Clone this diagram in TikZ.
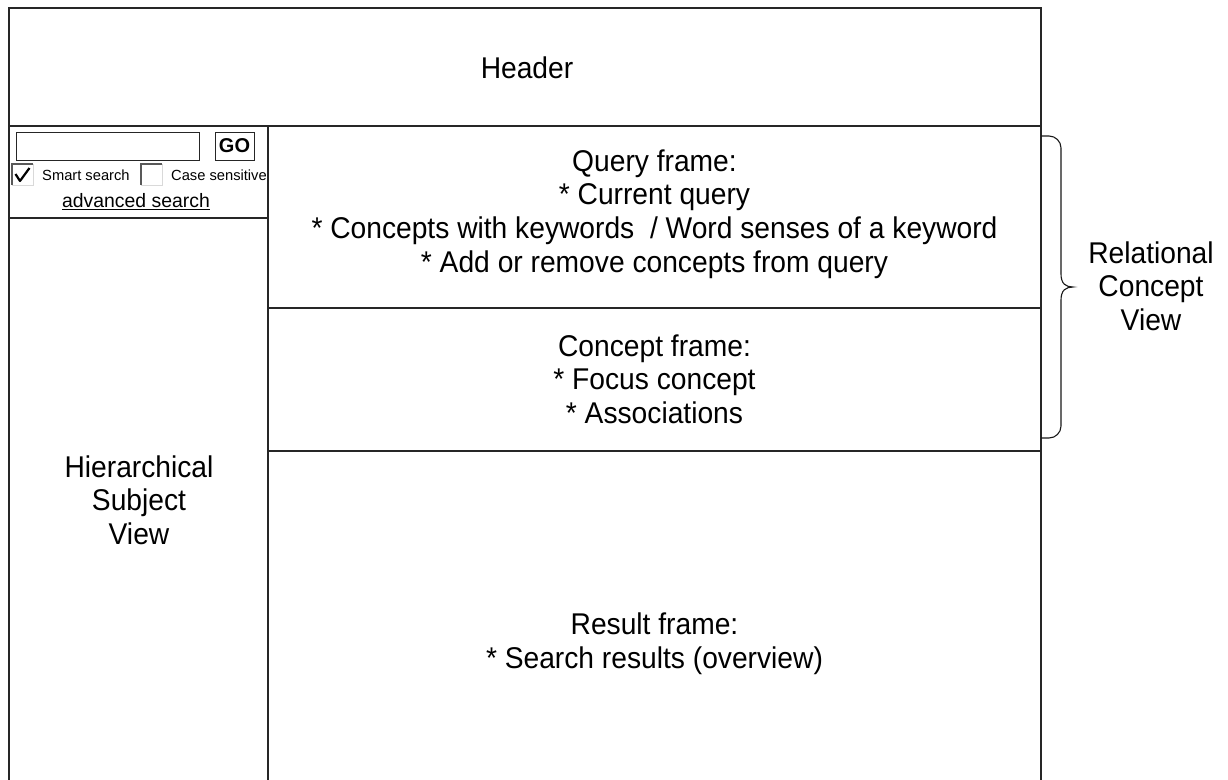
\documentclass[tikz,border=0pt]{standalone}
\usepackage{fontspec}
\setmainfont{Liberation Sans}
\newfontfamily\narrowsans[FakeStretch=0.94]{Liberation Sans}
\begin{document}
\begin{tikzpicture}[x=1pt,y=-1pt,
  frame/.style={draw=black!85,line width=1.4pt},
  thin/.style={draw=black!85,line width=1pt},
  label/.style={align=center,font=\narrowsans\fontsize{30}{33.7}\selectfont,inner sep=0pt},
  small/.style={font=\fontsize{14.7}{16}\selectfont,inner sep=0pt,anchor=west},
  boxdark/.style={draw=black!65,line width=1.6pt},
  boxlight/.style={draw=black!15,line width=1pt}]
\useasboundingbox (0,0) rectangle (1228,779);
\clip (0,0) rectangle (1228,779);

% page frames
\draw[frame] (9,8) rectangle (1041,126);
\draw[frame] (9,126) rectangle (268,800);
\draw[frame] (9,218) -- (268,218);
\draw[frame] (268,126) rectangle (1041,308);
\draw[frame] (268,308) rectangle (1041,451);
\draw[frame] (268,451) rectangle (1041,800);

% search panel
\draw[thin] (16,132) rectangle (199,160);
\node[thin,minimum width=39pt,minimum height=28pt,inner sep=0pt,
  font=\fontsize{20}{22}\selectfont\bfseries] (go) at (234.5,146) {GO};

% check boxes (sunken look)
\draw[boxlight] (12,185) -- (33,185) -- (33,164);
\draw[boxdark] (33,164) -- (12,164) -- (12,185);
\draw[black,line width=2.2pt,line join=round] (15.5,174) -- (20,181) -- (29.5,168);
\node[small] (smart) at (42,175) {Smart search};
\draw[boxlight] (141,185) -- (162,185) -- (162,164);
\draw[boxdark] (162,164) -- (141,164) -- (141,185);
\node[small] (case) at (171,175) {Case sensitive};
\node[inner sep=0pt,font=\fontsize{19.4}{22}\selectfont] (adv) at (136,202) {\underline{advanced search}};

% labels
\node[label] (header) at (527,68) {Header};
\node[label] (hier) at (139,500) {Hierarchical\\Subject\\View};
\node[label] (query) at (654.5,214) {Query frame:\\* Current query\\* Concepts with keywords \ / Word senses of a keyword\\* Add or remove concepts from query};
\node[label] (concept) at (654.5,379) {Concept frame:\\* Focus concept\\* Associations};
\node[label] (result) at (654.5,644) {Result frame:\\* Search results (overview)};
\node[label] (rcv) at (1151,286) {Relational\\Concept\\View};

% brace around the query and concept frames
\draw[line width=1.1pt,black!90] (1041,136) -- (1049,136)
  .. controls (1055.6,136) and (1061,141.4) .. (1061,148)
  -- (1061,274)
  .. controls (1061,284) and (1066,287) .. (1073,287)
  .. controls (1066,287) and (1061,290) .. (1061,300)
  -- (1061,426)
  .. controls (1061,432.6) and (1055.6,438) .. (1049,438) -- (1041,438);
\end{tikzpicture}
\end{document}
